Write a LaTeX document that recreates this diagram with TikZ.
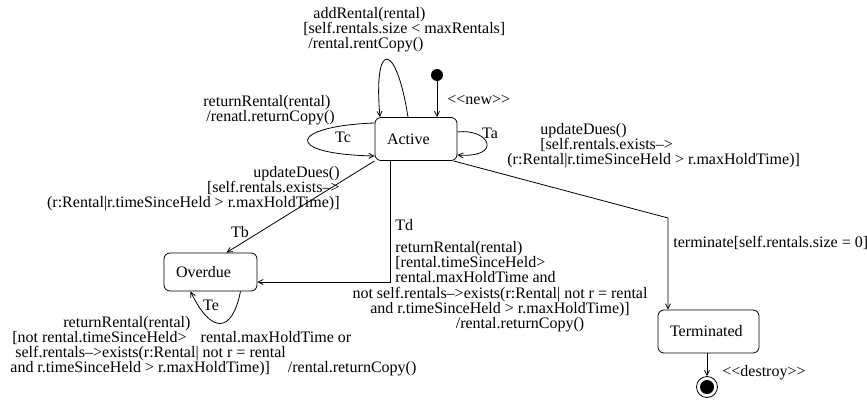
\documentclass[tikz,border=0pt]{standalone}
\usepackage{fontspec}
\setmainfont{Liberation Serif}
\usetikzlibrary{%
    arrows.meta,
    positioning
}
\tikzset{
    state/.style={draw, rounded corners=6pt, inner xsep=12pt, align=left},
    initial/.style={circle, fill, inner sep=0pt, minimum size=12pt},
    final/.style={circle, draw, inner sep=0pt, minimum size=21pt,
                  path picture={\fill (path picture bounding box.center) circle (7pt);}},
    lbl/.style={inner sep=0pt, align=left},
    trans/.style={-{Straight Barb[length=5pt,width=5pt]}}
}

\begin{document}
\begin{tikzpicture}[x=1pt, y=-1pt, line width=0.8pt, font=\fontsize{16}{15}\selectfont]
    \useasboundingbox (0,0) rectangle (867,399);

    \node (active) [state, text width=58pt, minimum height=43pt] at (416,139) {Active};
    \node (overdue) [state, text width=69pt, minimum height=38pt] at (210.5,272) {Overdue};
    \node (terminated) [state, text width=77pt, minimum height=43pt] at (708.5,331.5) {Terminated};
    \node (init) [initial] at (437,75) {};
    \node (final) [final] at (707,387) {};
    \coordinate (bend) at (668,218);

    \draw[trans] (init) -- (init |- active.north);
    \draw[trans] ([xshift=-8pt]active.north) .. controls (396,40) and (373,40) .. ([xshift=-36pt]active.north);
    \draw[trans] ([yshift=16pt]active.west) .. controls (290,126) and (281,154) .. ([yshift=-17pt]active.west);
    \draw[trans] ([yshift=7pt]active.east) .. controls (490,128) and (503,158) .. ([yshift=-16pt]active.east);
    \draw[trans] (active.south west) -- ([xshift=16pt]overdue.north);
    \draw[trans] ([xshift=-26pt]active.south) |- ([yshift=-10pt]overdue.east);
    \draw[trans] ([xshift=30pt]overdue.south) .. controls (232,334) and (211,334) .. ([xshift=-20pt]overdue.south);
    \draw[trans] ([xshift=-4pt]active.south east) -- (bend) -- (bend |- terminated.north);
    \draw[trans] (terminated.south -| final.north) -- (final.north);

    \node (addlbl) [lbl, anchor=north west] at (303,7)
        {\hspace*{10pt}addRental(rental)\\{}[self.rentals.size < maxRentals]\\\hspace*{5pt}/rental.rentCopy()};
    \node (tclbl) [lbl, anchor=north west] at (203,95)
        {returnRental(rental)\\\hspace*{3pt}/renatl.returnCopy()};
    \node (newlbl) [lbl, anchor=west] at (447,100) {<{}<new>{}>};
    \node (tc) [lbl] at (343,137) {Tc};
    \node (ta) [lbl] at (490,133) {Ta};
    \node (talbl) [lbl, anchor=north west] at (507,123)
        {\hspace*{33pt}updateDues()\\\hspace*{33pt}[self.rentals.exists-->\\(r:Rental|r.timeSinceHeld > r.maxHoldTime)]};
    \node (tblbl) [lbl, align=right, anchor=north east] at (340,166)
        {updateDues()\\{}[self.rentals.exists-->\\(r:Rental|r.timeSinceHeld > r.maxHoldTime)]};
    \node (tb) [lbl] at (240,232) {Tb};
    \node (td) [lbl, anchor=west] at (395,225) {Td};
    \node (tdlbl) [lbl, anchor=north west] at (395,241)
        {returnRental(rental)\\{}[rental.timeSinceHeld>\\rental.maxHoldTime and};
    \node (tdlbl2) [lbl, align=center, anchor=north] at (500,287)
        {not self.rentals-->exists(r:Rental| not r = rental\\and r.timeSinceHeld > r.maxHoldTime)]\\\hspace*{40pt}/rental.returnCopy()};
    \node (te) [lbl] at (211,305) {Te};
    \node (telbl) [lbl, anchor=north west] at (10,316)
        {\hspace*{53pt}returnRental(rental)\\\hspace*{2pt}[not rental.timeSinceHeld>\hspace{14pt}rental.maxHoldTime or\\\hspace*{5pt}self.rentals-->exists(r:Rental| not r = rental\\and r.timeSinceHeld > r.maxHoldTime)]\hspace{18pt}/rental.returnCopy()};
    \node (termlbl) [lbl, anchor=west] at (673,243) {terminate[self.rentals.size = 0]};
    \node (destroylbl) [lbl, anchor=west] at (722,373) {<{}<destroy>{}>};
\end{tikzpicture}
\end{document}
